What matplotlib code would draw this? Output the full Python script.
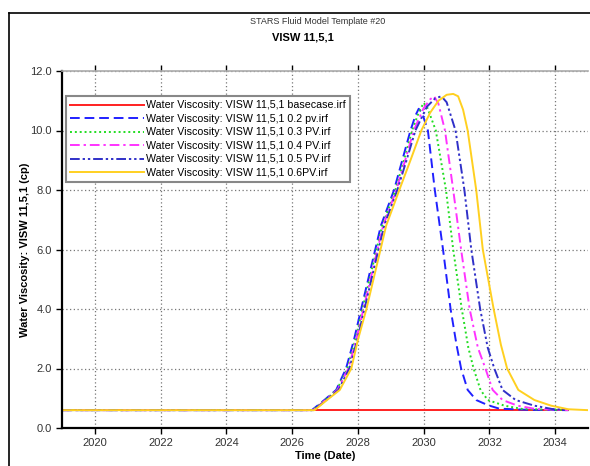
import matplotlib
matplotlib.use("Agg")
import matplotlib.pyplot as plt
from matplotlib.lines import Line2D

plt.rcParams['font.family'] = ['Liberation Sans', 'DejaVu Sans']

# decimal years / viscosity (cp)
base_t = [2019.0, 2026.6, 2034.4]
base_v = [0.6, 0.6, 0.6]

pv02_t = [2019.0, 2026.6, 2026.98, 2027.34, 2027.64, 2027.88, 2028.1, 2028.4, 2028.7, 2029.1,
          2029.35, 2029.6, 2029.75, 2029.85, 2029.95, 2030.13, 2030.34, 2030.59, 2030.82, 2031.0,
          2031.14, 2031.34, 2031.6, 2031.95, 2032.3, 2033.2, 2034.4]
pv02_v = [0.6, 0.6, 0.94, 1.28, 2.0, 2.96, 4.0, 5.4, 6.8, 8.0,
          9.0, 10.0, 10.5, 10.73, 10.6, 10.0, 8.0, 6.0, 4.0, 2.8,
          2.0, 1.28, 0.94, 0.77, 0.65, 0.61, 0.6]

pv03_t = [2019.0, 2026.62, 2027.0, 2027.36, 2027.68, 2027.92, 2028.14, 2028.44, 2028.74, 2029.14,
          2029.4, 2029.65, 2029.85, 2030.0, 2030.12, 2030.37, 2030.68, 2030.9, 2031.16, 2031.36,
          2031.52, 2031.73, 2031.95, 2032.46, 2033.0, 2034.4]
pv03_v = [0.6, 0.6, 0.94, 1.28, 2.0, 2.96, 4.0, 5.4, 6.8, 8.0,
          9.0, 10.0, 10.6, 10.93, 10.75, 10.0, 8.0, 6.0, 4.0, 2.7,
          2.0, 1.28, 0.94, 0.75, 0.64, 0.6]

pv04_t = [2019.0, 2026.64, 2027.02, 2027.38, 2027.71, 2027.95, 2028.17, 2028.47, 2028.77, 2029.17,
          2029.44, 2029.7, 2030.0, 2030.2, 2030.32, 2030.45, 2030.65, 2030.9, 2031.14, 2031.4,
          2031.65, 2031.88, 2032.1, 2032.4, 2032.86, 2033.4, 2034.4]
pv04_v = [0.6, 0.6, 0.94, 1.28, 2.0, 2.96, 4.0, 5.4, 6.8, 8.0,
          9.0, 10.0, 10.75, 11.05, 11.15, 10.9, 10.0, 8.0, 6.0, 4.0,
          2.7, 2.0, 1.28, 0.94, 0.75, 0.64, 0.6]

pv05_t = [2019.0, 2026.66, 2027.04, 2027.41, 2027.74, 2027.98, 2028.2, 2028.5, 2028.8, 2029.2,
          2029.48, 2029.75, 2030.1, 2030.35, 2030.54, 2030.7, 2030.97, 2031.24, 2031.45, 2031.72,
          2031.95, 2032.15, 2032.4, 2032.8, 2033.37, 2033.9, 2034.4]
pv05_v = [0.6, 0.6, 0.94, 1.28, 2.0, 2.96, 4.0, 5.4, 6.8, 8.0,
          9.0, 10.0, 10.8, 11.08, 11.15, 10.95, 10.0, 8.0, 6.0, 4.0,
          2.7, 2.0, 1.28, 0.94, 0.75, 0.64, 0.6]

pv06_t = [2019.0, 2026.68, 2027.06, 2027.45, 2027.8, 2028.0, 2028.26, 2028.56, 2028.86, 2029.26,
          2029.6, 2029.93, 2030.2, 2030.45, 2030.7, 2030.9, 2031.05, 2031.2, 2031.34, 2031.6,
          2031.8, 2032.13, 2032.35, 2032.54, 2032.88, 2033.37, 2033.88, 2034.4, 2035.0]
pv06_v = [0.6, 0.6, 0.94, 1.28, 2.0, 2.96, 4.0, 5.4, 6.8, 8.0,
          9.0, 10.0, 10.6, 11.0, 11.2, 11.23, 11.15, 10.7, 10.0, 8.0,
          6.0, 4.0, 2.8, 2.0, 1.28, 0.94, 0.75, 0.63, 0.6]

labels = ["Water Viscosity: VISW 11,5,1 basecase.irf",
          "Water Viscosity: VISW 11,5,1 0.2 pv.irf",
          "Water Viscosity: VISW 11,5,1 0.3 PV.irf",
          "Water Viscosity: VISW 11,5,1 0.4 PV.irf",
          "Water Viscosity: VISW 11,5,1 0.5 PV.irf",
          "Water Viscosity: VISW 11,5,1 0.6PV.irf"]

x_ticks = [2020, 2022, 2024, 2026, 2028, 2030, 2032, 2034]
y_ticks = [0, 2, 4, 6, 8, 10, 12]

fig = plt.figure(figsize=(5.9, 4.66), dpi=100)
ax = fig.add_axes([62 / 590, 1 - 428 / 466, 526 / 590, 357 / 466])

ax.plot(base_t, base_v, color="#ff2020", lw=1.4, ls="-", label=labels[0])
ax.plot(pv02_t, pv02_v, color="#2020ff", lw=1.4, ls=(0, (5, 2.5)), label=labels[1])
ax.plot(pv03_t, pv03_v, color="#22dd22", lw=1.4, ls=(0, (1, 1.5)), label=labels[2])
ax.plot(pv04_t, pv04_v, color="#ff33ff", lw=1.4, ls=(0, (5, 2, 1.2, 2)), label=labels[3])
ax.plot(pv05_t, pv05_v, color="#3030c8", lw=1.4, ls=(0, (5, 1.5, 1.2, 1.5, 1.2, 1.5)), label=labels[4])
ax.plot(pv06_t, pv06_v, color="#ffd020", lw=1.4, ls="-", label=labels[5])

ax.set_xlim(2019, 2035)
ax.set_ylim(0, 12)
ax.set_xticks(x_ticks)
ax.set_xticklabels([str(t) for t in x_ticks])
ax.set_yticks(y_ticks)
ax.set_yticklabels([f"{t:.1f}" for t in y_ticks])
ax.grid(True, color="#777777", ls=(0, (1, 2)), lw=0.9)

ax.tick_params(axis="both", labelsize=8, labelcolor="#333333", length=4, width=1, top=True)
for s in ["left", "bottom"]:
    ax.spines[s].set_linewidth(1.6)
    ax.spines[s].set_color("black")
ax.spines["top"].set_color("#aaaaaa")
ax.spines["top"].set_linewidth(1.2)
ax.spines["right"].set_visible(False)

ax.set_xlabel("Time (Date)", fontsize=8, fontweight="bold", labelpad=2)
ax.set_ylabel("Water Viscosity: VISW 11,5,1 (cp)", fontsize=8, fontweight="bold", labelpad=0)

leg = ax.legend(loc="upper left", bbox_to_anchor=(0.008, 0.93), fontsize=7.7, handlelength=6.9,
                handletextpad=0.2, labelspacing=0.33, borderpad=0.4, fancybox=False,
                framealpha=1, edgecolor="#888888", borderaxespad=0)
leg.get_frame().set_linewidth(1.5)

fig.text(318 / 590, 1 - 22 / 466, "STARS Fluid Model Template #20", ha="center", va="center",
         fontsize=6.5, color="#333333")
fig.text(303 / 590, 1 - 38 / 466, "VISW 11,5,1", ha="center", va="center",
         fontsize=8, fontweight="bold")

fig.add_artist(Line2D([9 / 590, 9 / 590], [0, 1 - 13 / 466], color="black", lw=1.2))
fig.add_artist(Line2D([9 / 590, 1], [1 - 13 / 466, 1 - 13 / 466], color="black", lw=1.2))

fig.savefig("out.png", dpi=100)
